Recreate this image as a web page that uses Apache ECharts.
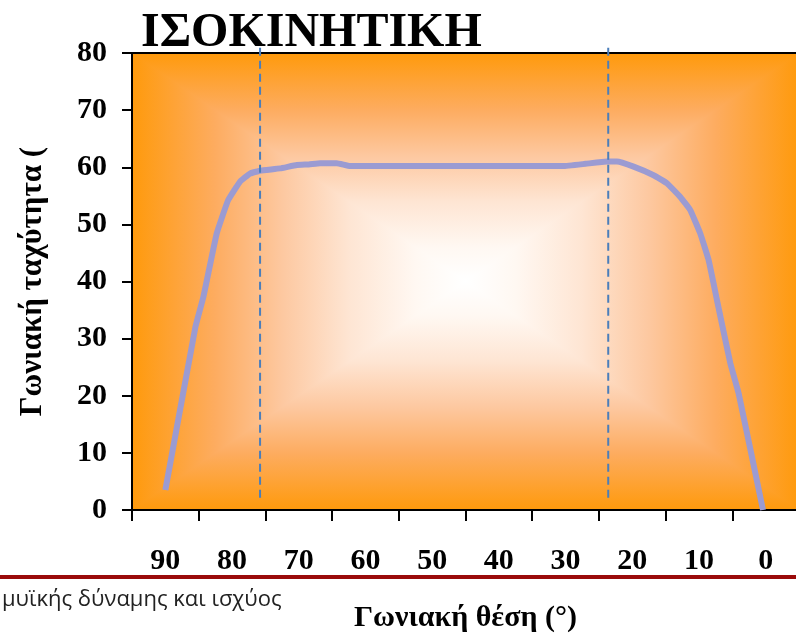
<!DOCTYPE html>
<html>
<head>
<meta charset="utf-8">
<script src="https://cdn.jsdelivr.net/npm/echarts@6/dist/echarts.min.js"></script>
<style>
  html, body { margin: 0; padding: 0; background: #fff; }
  #chart { width: 796px; height: 635px; }
</style>
</head>
<body>
<div id="chart"></div>
<script>
// category labels along the bottom (one band per 10 degrees)
const angleLabels = ['90', '80', '70', '60', '50', '40', '30', '20', '10', '0'];

// the curve: angle (deg) and angular velocity
const angles = [90, 85.5, 84.3, 82.3, 80.6, 78.8, 77.3, 75.8, 72.8, 70.3, 68.5, 66.8, 64.3, 62.3,
  55, 45, 35, 30.4, 27, 23.8, 22.3, 19.8, 16.8, 14.8, 12.8, 11.3, 9.8, 8.55, 7.3, 5.3, 4.05, 0.4];
const velocities = [3.5, 32, 37.3, 48.4, 54.2, 57.5, 58.9, 59.4, 59.8, 60.4, 60.5, 60.7, 60.7, 60.2,
  60.2, 60.2, 60.2, 60.2, 60.6, 61, 61, 60.1, 58.6, 57.2, 54.8, 52.5, 48.4, 43.75, 36.75, 25.7, 20.4, 0];

// dashed vertical markers (angle), and the value span they cover
const markerAngles = [75.8, 23.6];
const markerRange = [80.9, 1.5];

const G = { left: 132, top: 53, width: 667, height: 457 };
const W = 796;

const chart = echarts.init(document.getElementById('chart'));

const serif = '"Liberation Serif", "Times New Roman", serif';
const orange = [
  { offset: 0, color: '#FF9A0C' },
  { offset: 0.25, color: '#FDAC60' },
  { offset: 0.45, color: '#FDC8A0' },
  { offset: 0.65, color: '#FEE5D3' },
  { offset: 0.85, color: '#FFF8F2' },
  { offset: 1, color: '#FFFFFF' }
];

const L = G.left, T = G.top, R = G.left + G.width, B = G.top + G.height;
const cx = L + G.width / 2, cy = T + G.height / 2;

function grad(x, y, x2, y2) {
  return { type: 'linear', x: x, y: y, x2: x2, y2: y2, global: true, colorStops: orange };
}

function tri(points, fill) {
  return {
    type: 'polygon', z: -10, silent: true,
    shape: { points: points },
    style: { fill: fill, stroke: null }
  };
}

function baseGraphics() {
  return [
    // left/right halves as full rects, then top/bottom wedges over them
    {
      type: 'rect', z: -11, silent: true,
      shape: { x: L, y: T, width: cx - L, height: G.height },
      style: { fill: grad(L, 0, cx, 0) }
    },
    {
      type: 'rect', z: -11, silent: true,
      shape: { x: cx, y: T, width: R - cx, height: G.height },
      style: { fill: grad(R, 0, cx, 0) }
    },
    tri([[L, T], [R, T], [cx, cy]], grad(0, T, 0, cy)),
    tri([[L, B], [R, B], [cx, cy]], grad(0, B, 0, cy)),
    {
      type: 'line', z: 10, silent: true,
      shape: { x1: 0, y1: 577, x2: W, y2: 577 },
      style: { stroke: '#9A0A0A', lineWidth: 4 }
    },
    {
      type: 'text', z: 10, silent: true,
      left: 2, top: 589,
      style: { text: 'μυϊκής δύναμης και ισχύος', font: '22px "Open Sans", sans-serif', fill: '#222' }
    }
  ];
}

const option = {
  animation: false,
  title: {
    text: 'ΙΣΟΚΙΝΗΤΙΚΗ',
    left: 141,
    top: 10,
    padding: 0,
    textStyle: { fontFamily: serif, fontWeight: 'bold', fontSize: 48, color: '#000' }
  },
  graphic: baseGraphics(),
  grid: {
    left: G.left, top: G.top, width: G.width, height: G.height,
    outerBoundsMode: 'none',
    containLabel: false,
    show: true, borderColor: '#000', borderWidth: 2, backgroundColor: 'transparent'
  },
  xAxis: [
    {
      type: 'category',
      data: angleLabels,
      boundaryGap: true,
      name: 'Γωνιακή θέση (°)',
      nameLocation: 'middle',
      nameGap: 93,
      nameTextStyle: { fontFamily: serif, fontWeight: 'bold', fontSize: 30, color: '#000' },
      axisLine: { onZero: false, lineStyle: { color: '#000', width: 2 } },
      axisTick: { show: true, inside: false, length: 11, lineStyle: { color: '#000', width: 2 } },
      axisLabel: { margin: 36, fontFamily: serif, fontWeight: 'bold', fontSize: 30, color: '#000' },
      splitLine: { show: false }
    },
    {
      type: 'value',
      min: -5,
      max: 95,
      inverse: true,
      show: false
    }
  ],
  yAxis: {
    type: 'value',
    min: 0,
    max: 80,
    interval: 10,
    name: 'Γωνιακή ταχύτητα (',
    nameLocation: 'middle',
    nameGap: 84,
    nameRotate: 90,
    nameTextStyle: { fontFamily: serif, fontWeight: 'bold', fontSize: 31, color: '#000' },
    axisLine: { show: true, onZero: false, lineStyle: { color: '#000', width: 2 } },
    axisTick: { show: true, inside: false, length: 10, lineStyle: { color: '#000', width: 2 } },
    axisLabel: { margin: 25, fontFamily: serif, fontWeight: 'bold', fontSize: 30, color: '#000' },
    splitLine: { show: false }
  },
  series: [
    {
      type: 'line',
      xAxisIndex: 1,
      data: angles.map((a, i) => [a, velocities[i]]),
      showSymbol: false,
      smooth: 0.1,
      lineStyle: { color: '#9B9BD2', width: 6 },
      z: 5
    }
  ]
};

chart.setOption(option);

// dashed markers go a bit past the top of the plot, so place them as graphics
// using the series' own scales
const markers = markerAngles.map(a => {
  const p1 = chart.convertToPixel({ seriesIndex: 0 }, [a, markerRange[0]]);
  const p2 = chart.convertToPixel({ seriesIndex: 0 }, [a, markerRange[1]]);
  return {
    type: 'line', z: 6, silent: true,
    shape: { x1: p1[0], y1: p1[1], x2: p2[0], y2: p2[1] },
    style: { stroke: '#4A7EBB', lineWidth: 2, lineDash: [8, 5] }
  };
});

chart.setOption({ graphic: baseGraphics().concat(markers) });
</script>
</body>
</html>
